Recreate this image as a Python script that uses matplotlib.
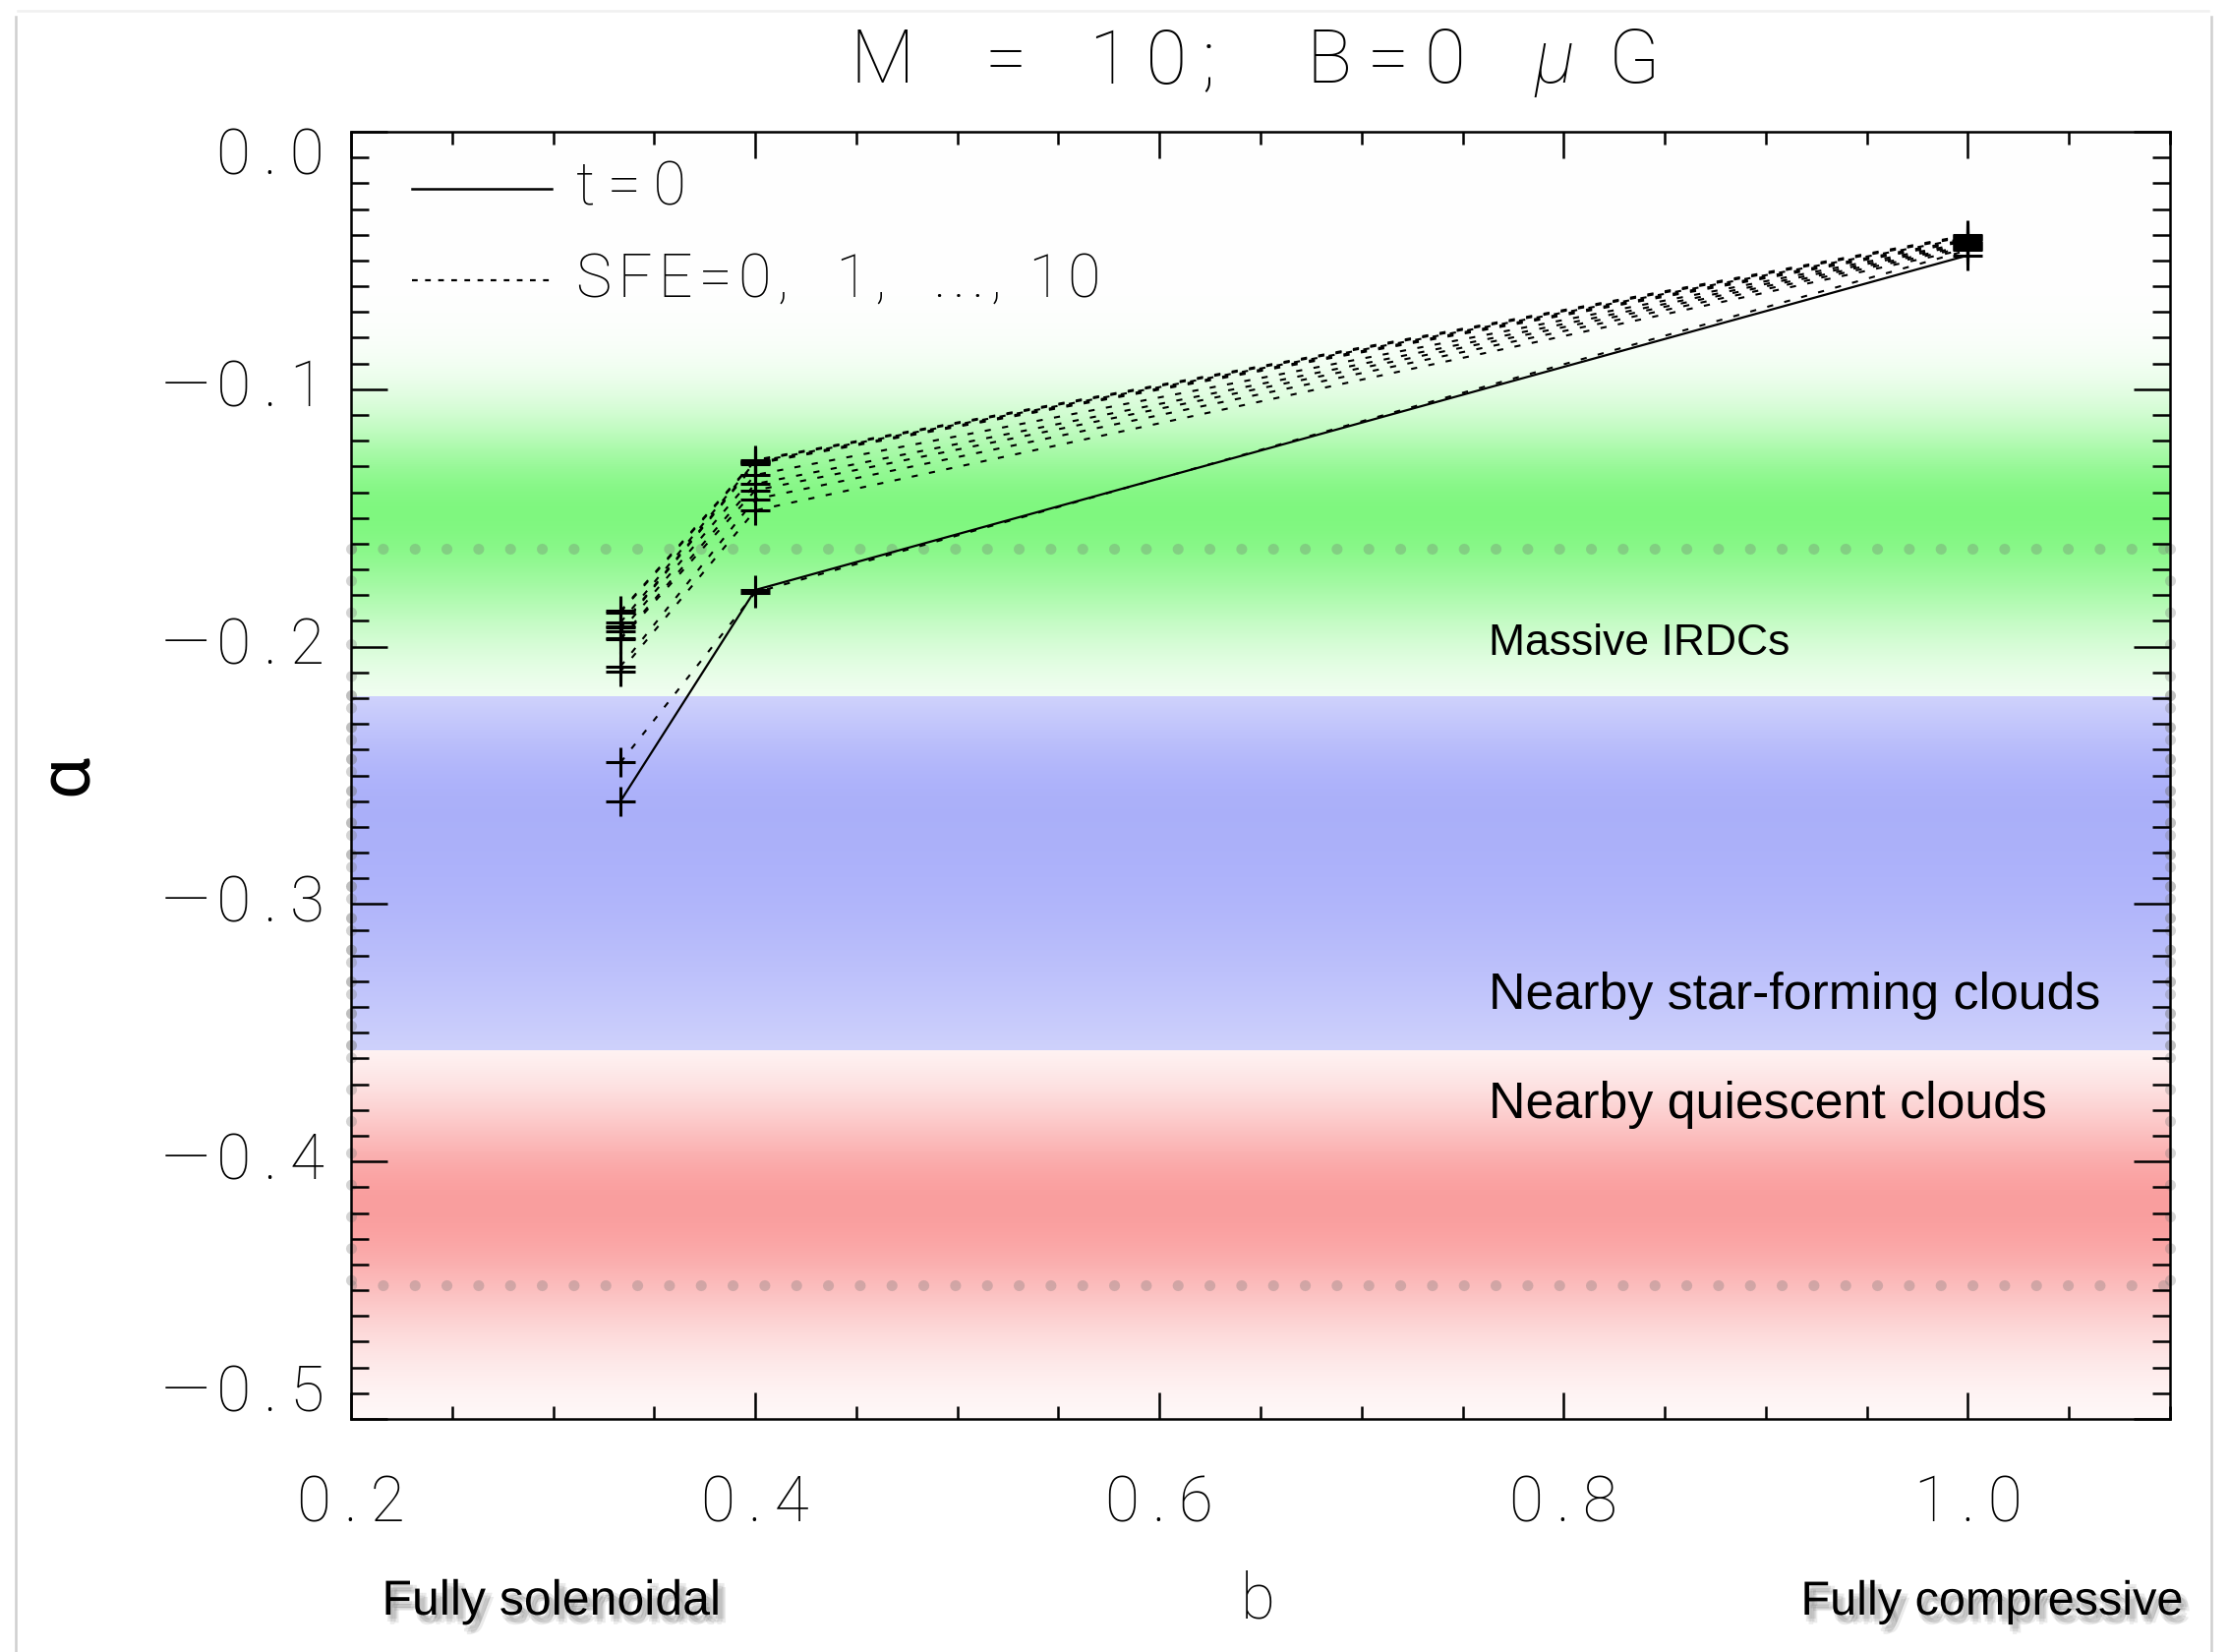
import numpy as np
import matplotlib
matplotlib.use('Agg')
import matplotlib.pyplot as plt
import matplotlib.patheffects as pe
from matplotlib.lines import Line2D
from matplotlib.transforms import offset_copy

# turbulence driving parameter b of the three runs
b_vals = [1 / 3, 0.4, 1.0]

# PDF slope alpha at t=0
alpha_t0 = [-0.260, -0.178, -0.048]

# PDF slope alpha for SFE = 0, 1, ..., 10 per cent (one value per b)
alpha_sfe_b033 = [-0.245, -0.2096, -0.2077, -0.1972, -0.1968, -0.1942,
                  -0.1927, -0.1923, -0.1906, -0.1866, -0.1862]
alpha_sfe_b040 = [-0.179, -0.1471, -0.1427, -0.1393, -0.1368, -0.1333,
                  -0.1290, -0.1286, -0.1282, -0.1278, -0.1275]
alpha_sfe_b100 = [-0.046, -0.0455, -0.0448, -0.0442, -0.0436, -0.0430,
                  -0.0424, -0.0418, -0.0412, -0.0406, -0.0401]

# observed alpha ranges of cloud samples
band_names = ['Massive IRDCs', 'Nearby star-forming clouds', 'Nearby quiescent clouds']
band_lo = [-0.219, -0.357, -0.50]
band_hi = [0.0, -0.219, -0.357]
band_peak = [-0.148, -0.265, -0.417]
band_sig_up = [0.027, 0.043, 0.030]
band_sig_dn = [0.034, 0.088, 0.036]
band_rgb = [(0.50, 0.97, 0.50), (0.67, 0.69, 0.98), (0.98, 0.62, 0.62)]
band_label_y = [-0.199, -0.3355, -0.378]
band_label_size = [16, 18.7, 18.7]

# dotted reference levels
dotted_levels = [-0.162, -0.448]

xticks = [0.2, 0.4, 0.6, 0.8, 1.0]
yticks = [0.0, -0.1, -0.2, -0.3, -0.4, -0.5]

LIGHT = ['Roboto', 'DejaVu Sans']
SANS = ['Liberation Sans', 'DejaVu Sans']


def spaced(s, sep='\u2009'):
    return sep.join(s)


def tick_text(v):
    s = spaced('%.1f' % abs(v))
    if v < 0:
        s = '\u2015\u200a' + s
    return s


fig = plt.figure(figsize=(11.34, 8.4), dpi=200)
ax = fig.add_axes([357 / 2268, 1 - 1443 / 1680, 1850 / 2268, 1309 / 1680])
ax.set_xlim(0.2, 1.1)
ax.set_ylim(-0.5, 0.0)

# colour bands
a_grid = np.linspace(-0.5, 0.0, 2001)
img = np.ones((len(a_grid), 1, 3))
for lo, hi, pk, su, sd, rgb in zip(band_lo, band_hi, band_peak, band_sig_up, band_sig_dn, band_rgb):
    m = (a_grid >= lo) & (a_grid <= hi)
    sig = np.where(a_grid > pk, su, sd)
    w = np.exp(-0.5 * ((a_grid - pk) / sig) ** 2)
    for c in range(3):
        img[m, 0, c] = 1 - w[m] * (1 - rgb[c])
ax.imshow(img, origin='lower', extent=[0.2, 1.1, -0.5, 0.0], aspect='auto',
          interpolation='nearest', zorder=0)

# dotted box of the observed range
dot_kw = dict(color='0.45', lw=4.0, dashes=(0.01, 2.9), dash_capstyle='round', zorder=1)
for lev in dotted_levels:
    ax.plot([0.2, 1.1], [lev, lev], alpha=0.3, **dot_kw)
for xe in [0.2, 1.1]:
    ax.plot([xe, xe], dotted_levels, alpha=0.3, clip_on=False, **dot_kw)
    ax.plot([xe, xe], [band_hi[1], band_lo[1]], alpha=0.45, clip_on=False, **dot_kw)

# SFE curves and t=0
mk = dict(marker='+', ms=10.8, mew=1.1, color='k')
for i in range(len(alpha_sfe_b033)):
    ys = [alpha_sfe_b033[i], alpha_sfe_b040[i], alpha_sfe_b100[i]]
    ax.plot(b_vals, ys, lw=0.75, dashes=(3.0, 5.6), zorder=3, **mk)
ax.plot(b_vals, alpha_t0, lw=0.8, zorder=4, **mk)

# legend
ax.plot([0.0335, 0.110], [0.9557, 0.9557], transform=ax.transAxes, color='k', lw=0.9)
ax.plot([0.0335, 0.110], [0.8846, 0.8846], transform=ax.transAxes, color='k', lw=0.8,
        dashes=(2.6, 3.4))
ax.text(0.124, 0.9557, spaced('t=0'), transform=ax.transAxes, va='center', ha='left',
        fontsize=22, family=LIGHT, fontweight='light')
ax.text(0.124, 0.8846, spaced('SFE=0,  1,  ..., 10', '\u200a'), transform=ax.transAxes,
        va='center', ha='left', fontsize=22, family=LIGHT, fontweight='light')

# band labels
for name, yl, fs in zip(band_names, band_label_y, band_label_size):
    ax.text(0.763, yl, name, fontsize=fs, family=SANS, va='center', ha='left', zorder=5)

# axes frame and ticks
for sp in ax.spines.values():
    sp.set_linewidth(0.9)
ax.set_xticks(xticks)
ax.set_xticks(np.arange(0.2, 1.1001, 0.05), minor=True)
ax.set_yticks(yticks)
ax.set_yticks(np.arange(-0.5, 0.0001, 0.01), minor=True)
ax.tick_params(which='both', direction='in', top=True, right=True, width=0.9,
               labelbottom=False, labelleft=False)
ax.tick_params(axis='x', which='major', length=9.7)
ax.tick_params(axis='x', which='minor', length=4.7)
ax.tick_params(axis='y', which='major', length=13.3)
ax.tick_params(axis='y', which='minor', length=6.5)

for v in yticks:
    dy = 0
    if v == yticks[0]:
        dy = -25
    elif v == yticks[-1]:
        dy = 25
    tr = offset_copy(ax.get_yaxis_transform(), fig=fig, x=-27, y=dy, units='dots')
    ax.text(0, v, tick_text(v), transform=tr, ha='right', va='center', fontsize=23,
            family=LIGHT, fontweight='light')
for v in xticks:
    tr = offset_copy(ax.get_xaxis_transform(), fig=fig, x=0, y=-86, units='dots')
    ax.text(v, 0, tick_text(v), transform=tr, ha='center', va='center',
            fontsize=23, family=LIGHT, fontweight='light')

# title, set in separate words
title_parts = ['M', '=', spaced('10;'), spaced('B=0'), 'μ', 'G']
title_x = [897, 1023, 1172, 1410, 1581, 1662]
for part, xp in zip(title_parts, title_x):
    fig.text(xp / 2268, 1 - 84 / 1680, part, ha='center', va='baseline', fontsize=27.5,
             family=LIGHT, fontweight='light', fontstyle='italic' if part == 'μ' else 'normal')

fig.text(68 / 2268, 1 - 788 / 1680, 'α', rotation=90, ha='center', va='center',
         fontsize=27, family=LIGHT)
fig.text(1279 / 2268, 1 - 1627 / 1680, 'b', ha='center', va='center', fontsize=23,
         family=LIGHT, fontweight='light')

shadow = [pe.SimplePatchShadow(offset=o, shadow_rgbFace='k', alpha=0.08)
          for o in [(1, -1.5), (2, -2.5), (1.5, -3.5), (2.5, -1.5), (0.5, -2.5), (3, -3)]]
shadow.append(pe.Normal())
fig.text(561 / 2268, 1 - 1642 / 1680, 'Fully solenoidal', ha='center', va='baseline',
         fontsize=18, family=SANS, path_effects=shadow)
fig.text(2026 / 2268, 1 - 1642 / 1680, 'Fully compressive', ha='center', va='baseline',
         fontsize=17.5, family=SANS, path_effects=shadow)

# light page frame
fig.add_artist(Line2D([16 / 2268, 16 / 2268], [0, 1 - 17 / 1680], transform=fig.transFigure,
                      color='#cfcfcf', lw=0.9))
fig.add_artist(Line2D([2249 / 2268, 2249 / 2268], [0, 1 - 17 / 1680], transform=fig.transFigure,
                      color='#cfcfcf', lw=0.9))
fig.add_artist(Line2D([18 / 2268, 2246 / 2268], [1 - 11 / 1680, 1 - 11 / 1680],
                      transform=fig.transFigure, color='#f0f0f0', lw=0.9))

fig.savefig('out.png', dpi=200)
